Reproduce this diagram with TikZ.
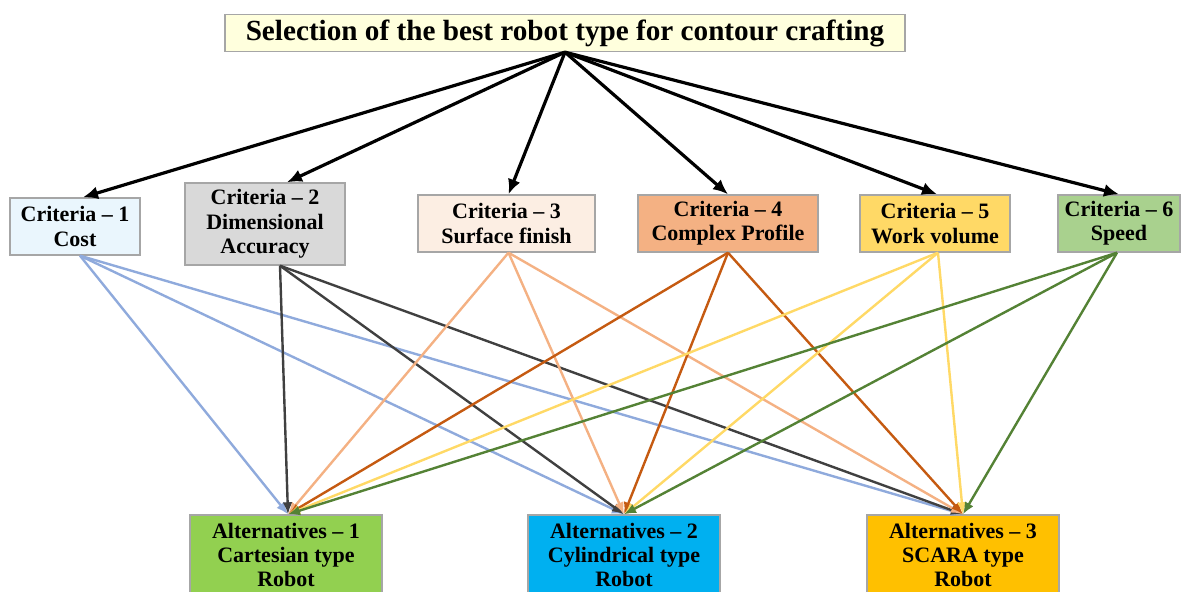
\documentclass[tikz,border=0pt]{standalone}
\usepackage{fontspec}
\setmainfont{Liberation Serif}
\usetikzlibrary{positioning,arrows.meta}
\definecolor{selfill}{HTML}{FFFFDD}
\definecolor{costfill}{HTML}{EAF6FD}
\definecolor{dimfill}{HTML}{D9D9D9}
\definecolor{surffill}{HTML}{FCEEE3}
\definecolor{profill}{HTML}{F4B183}
\definecolor{volfill}{HTML}{FFD966}
\definecolor{spdfill}{HTML}{A9D18E}
\definecolor{cartfill}{HTML}{92D050}
\definecolor{cylfill}{HTML}{00B0F0}
\definecolor{scarafill}{HTML}{FFC000}
\definecolor{costline}{HTML}{8FAADC}
\definecolor{dimline}{HTML}{404040}
\definecolor{surfline}{HTML}{F4B183}
\definecolor{proline}{HTML}{C55A11}
\definecolor{volline}{HTML}{FFD966}
\definecolor{spdline}{HTML}{548235}

\begin{document}
\begin{tikzpicture}[x=0.5pt,y=-0.5pt,
    box/.style={draw=gray!70,line width=0.7pt,align=center,inner sep=1pt,
      font=\bfseries\fontsize{11}{12.2}\selectfont},
    crit/.style={box,minimum height=28.5pt},
    alt/.style={box,minimum width=96pt,minimum height=40pt},
    down/.style={-{Latex[length=7.5pt,width=6.5pt]},line width=1.6pt,black},
    link/.style={-{Latex[length=6pt,width=5pt]},line width=1.2pt}]
  \useasboundingbox (0,0) rectangle (1189,592);
  \node[box,fill=selfill,minimum width=340pt,minimum height=18.5pt,
    font=\bfseries\fontsize{14.6}{16}\selectfont] (sel) at (565,33)
    {Selection of the best robot type for contour crafting};
  \node[crit,fill=costfill,minimum width=65pt] (c_1) at (75,226.5) {Criteria -- 1\\Cost};
  \node[box,fill=dimfill,minimum width=80pt,minimum height=41pt] (c_2) at (265,224) {Criteria -- 2\\Dimensional\\Accuracy};
  \node[crit,fill=surffill,minimum width=88.5pt] (c_3) at (506.5,223.5) {Criteria -- 3\\Surface finish};
  \node[crit,fill=profill,minimum width=90pt] (c_4) at (728,223.5) {Criteria -- 4\\Complex Profile};
  \node[crit,fill=volfill,minimum width=75pt] (c_5) at (935,223.5) {Criteria -- 5\\Work volume};
  \node[crit,fill=spdfill,minimum width=61pt] (c_6) at (1119,223.5) {Criteria -- 6\\Speed};
  \node[alt,fill=cartfill] (a_1) at (286,555) {Alternatives -- 1\\Cartesian type\\Robot};
  \node[alt,fill=cylfill] (a_2) at (624,555) {Alternatives -- 2\\Cylindrical type\\Robot};
  \node[alt,fill=scarafill] (a_3) at (963,555) {Alternatives -- 3\\SCARA type\\Robot};
  \path[down]
    (sel.south) edge ([xshift=4pt]c_1.north)
    (sel.south) edge ([xshift=11pt]c_2.north)
    (sel.south) edge ([xshift=1pt]c_3.north)
    (sel.south) edge (c_4.north)
    (sel.south) edge ([xshift=1pt]c_5.north)
    (sel.south) edge (c_6.north)
    ; %end path
  \path[link,costline]
    ([xshift=2.5pt]c_1.south) edge ([xshift=1pt]a_1.north)
    ([xshift=2.5pt]c_1.south) edge (a_2.north)
    ([xshift=2.5pt]c_1.south) edge (a_3.north);
  \path[link,dimline]
    ([xshift=7.5pt]c_2.south) edge ([xshift=1pt]a_1.north)
    ([xshift=7.5pt]c_2.south) edge (a_2.north)
    ([xshift=7.5pt]c_2.south) edge (a_3.north);
  \path[link,surfline]
    ([xshift=1pt]c_3.south) edge ([xshift=1pt]a_1.north)
    ([xshift=1pt]c_3.south) edge (a_2.north)
    ([xshift=1pt]c_3.south) edge (a_3.north);
  \path[link,proline]
    (c_4.south) edge ([xshift=1pt]a_1.north)
    (c_4.south) edge (a_2.north)
    (c_4.south) edge (a_3.north);
  \path[link,volline]
    ([xshift=1.5pt]c_5.south) edge ([xshift=1pt]a_1.north)
    ([xshift=1.5pt]c_5.south) edge (a_2.north)
    ([xshift=1.5pt]c_5.south) edge (a_3.north);
  \path[link,spdline]
    ([xshift=-1pt]c_6.south) edge ([xshift=1pt]a_1.north)
    ([xshift=-1pt]c_6.south) edge (a_2.north)
    ([xshift=-1pt]c_6.south) edge (a_3.north)
    ; %end path
\end{tikzpicture}
\end{document}
